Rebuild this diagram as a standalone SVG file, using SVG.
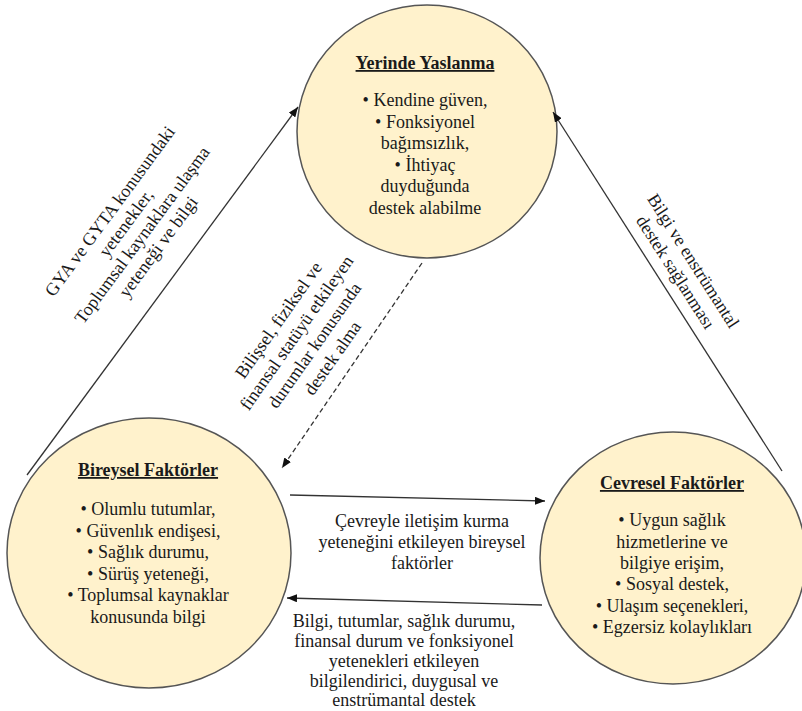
<svg xmlns="http://www.w3.org/2000/svg" width="802" height="711" viewBox="0 0 802 711" font-family="'Liberation Serif', 'DejaVu Serif', serif">
<defs>
<marker id="ah" viewBox="0 0 10 8" refX="10" refY="4" markerWidth="10" markerHeight="8" markerUnits="userSpaceOnUse" orient="auto"><path d="M0,0 L10,4 L0,8 z" fill="#111"/></marker>
</defs>
<style>
.node{fill:#FFF2CC;stroke:#555;stroke-width:1.5}
text{font-family:'Liberation Serif','DejaVu Serif',serif;font-size:18px;fill:#1a1a1a;text-anchor:middle}
.t{font-weight:bold;text-decoration:underline}
.c{fill:none;stroke:#333;stroke-width:1.3}
.d{stroke-dasharray:5 3}
</style>
<rect width="802" height="711" fill="#fff"/>
<g id="yerinde">
<ellipse class="node" cx="427" cy="131.5" rx="130" ry="126.5"/>
<text class="t" x="425" y="69">Yerinde Yaslanma</text>
<text x="425" y="106">• Kendine güven,</text>
<text x="425" y="127.6">• Fonksiyonel</text>
<text x="425" y="149.2">bağımsızlık,</text>
<text x="425" y="170.8">• İhtiyaç</text>
<text x="425" y="192.4">duyduğunda</text>
<text x="425" y="214">destek alabilme</text>
</g>
<g id="bireysel">
<ellipse class="node" cx="149" cy="553" rx="142" ry="135"/>
<text class="t" x="148" y="476">Bireysel Faktörler</text>
<text x="148" y="515">• Olumlu tutumlar,</text>
<text x="148" y="536.6">• Güvenlık endişesi,</text>
<text x="148" y="558.2">• Sağlık durumu,</text>
<text x="148" y="579.8">• Sürüş yeteneği,</text>
<text x="148" y="601.4">• Toplumsal kaynaklar</text>
<text x="148" y="623">konusunda bilgi</text>
</g>
<g id="cevresel">
<ellipse class="node" cx="673" cy="558" rx="133" ry="126"/>
<text class="t" x="672" y="489">Cevresel Faktörler</text>
<text x="672" y="526">• Uygun sağlık</text>
<text x="672" y="547.5">hizmetlerine ve</text>
<text x="672" y="569">bilgiye erişim,</text>
<text x="672" y="590">• Sosyal destek,</text>
<text x="672" y="611.5">• Ulaşım seçenekleri,</text>
<text x="672" y="633">• Egzersiz kolaylıkları</text>
</g>
<g id="connectors">
<line class="c" x1="27" y1="475" x2="298" y2="107" marker-end="url(#ah)"/>
<line class="c" x1="782" y1="471" x2="553" y2="112" marker-end="url(#ah)"/>
<line class="c d" x1="422" y1="263" x2="282" y2="468" marker-end="url(#ah)"/>
<line class="c" x1="290" y1="495" x2="545" y2="501" marker-end="url(#ah)"/>
<line class="c" x1="542" y1="605" x2="287" y2="598" marker-end="url(#ah)"/>
<g transform="translate(134,229) rotate(-53.6)">
<text x="0" y="-24">GYA ve GYTA konusundaki</text>
<text x="0" y="-4">yetenekler,</text>
<text x="0" y="16">Toplumsal kaynaklara ulaşma</text>
<text x="0" y="36">yeteneği ve bilgi</text>
</g>
<g transform="translate(684.5,266.5) rotate(57.5)">
<text x="0" y="-4.5">Bilgi ve enstrümantal</text>
<text x="0" y="16.5">destek sağlanması</text>
</g>
<g transform="translate(305.5,339) rotate(-55)">
<text x="0" y="-27">Bilişsel, fiziksel ve</text>
<text x="0" y="-5">finansal statüyü etkileyen</text>
<text x="0" y="17">durumlar konusunda</text>
<text x="0" y="39">destek alma</text>
</g>
<text x="422" y="527">Çevreyle iletişim kurma</text>
<text x="422" y="548">yeteneğini etkileyen bireysel</text>
<text x="422" y="569">faktörler</text>
<text x="404" y="627">Bilgi, tutumlar, sağlık durumu,</text>
<text x="404" y="647">finansal durum ve fonksiyonel</text>
<text x="404" y="667">yetenekleri etkileyen</text>
<text x="404" y="687">bilgilendirici, duygusal ve</text>
<text x="404" y="706">enstrümantal destek</text>
</g>
</svg>
